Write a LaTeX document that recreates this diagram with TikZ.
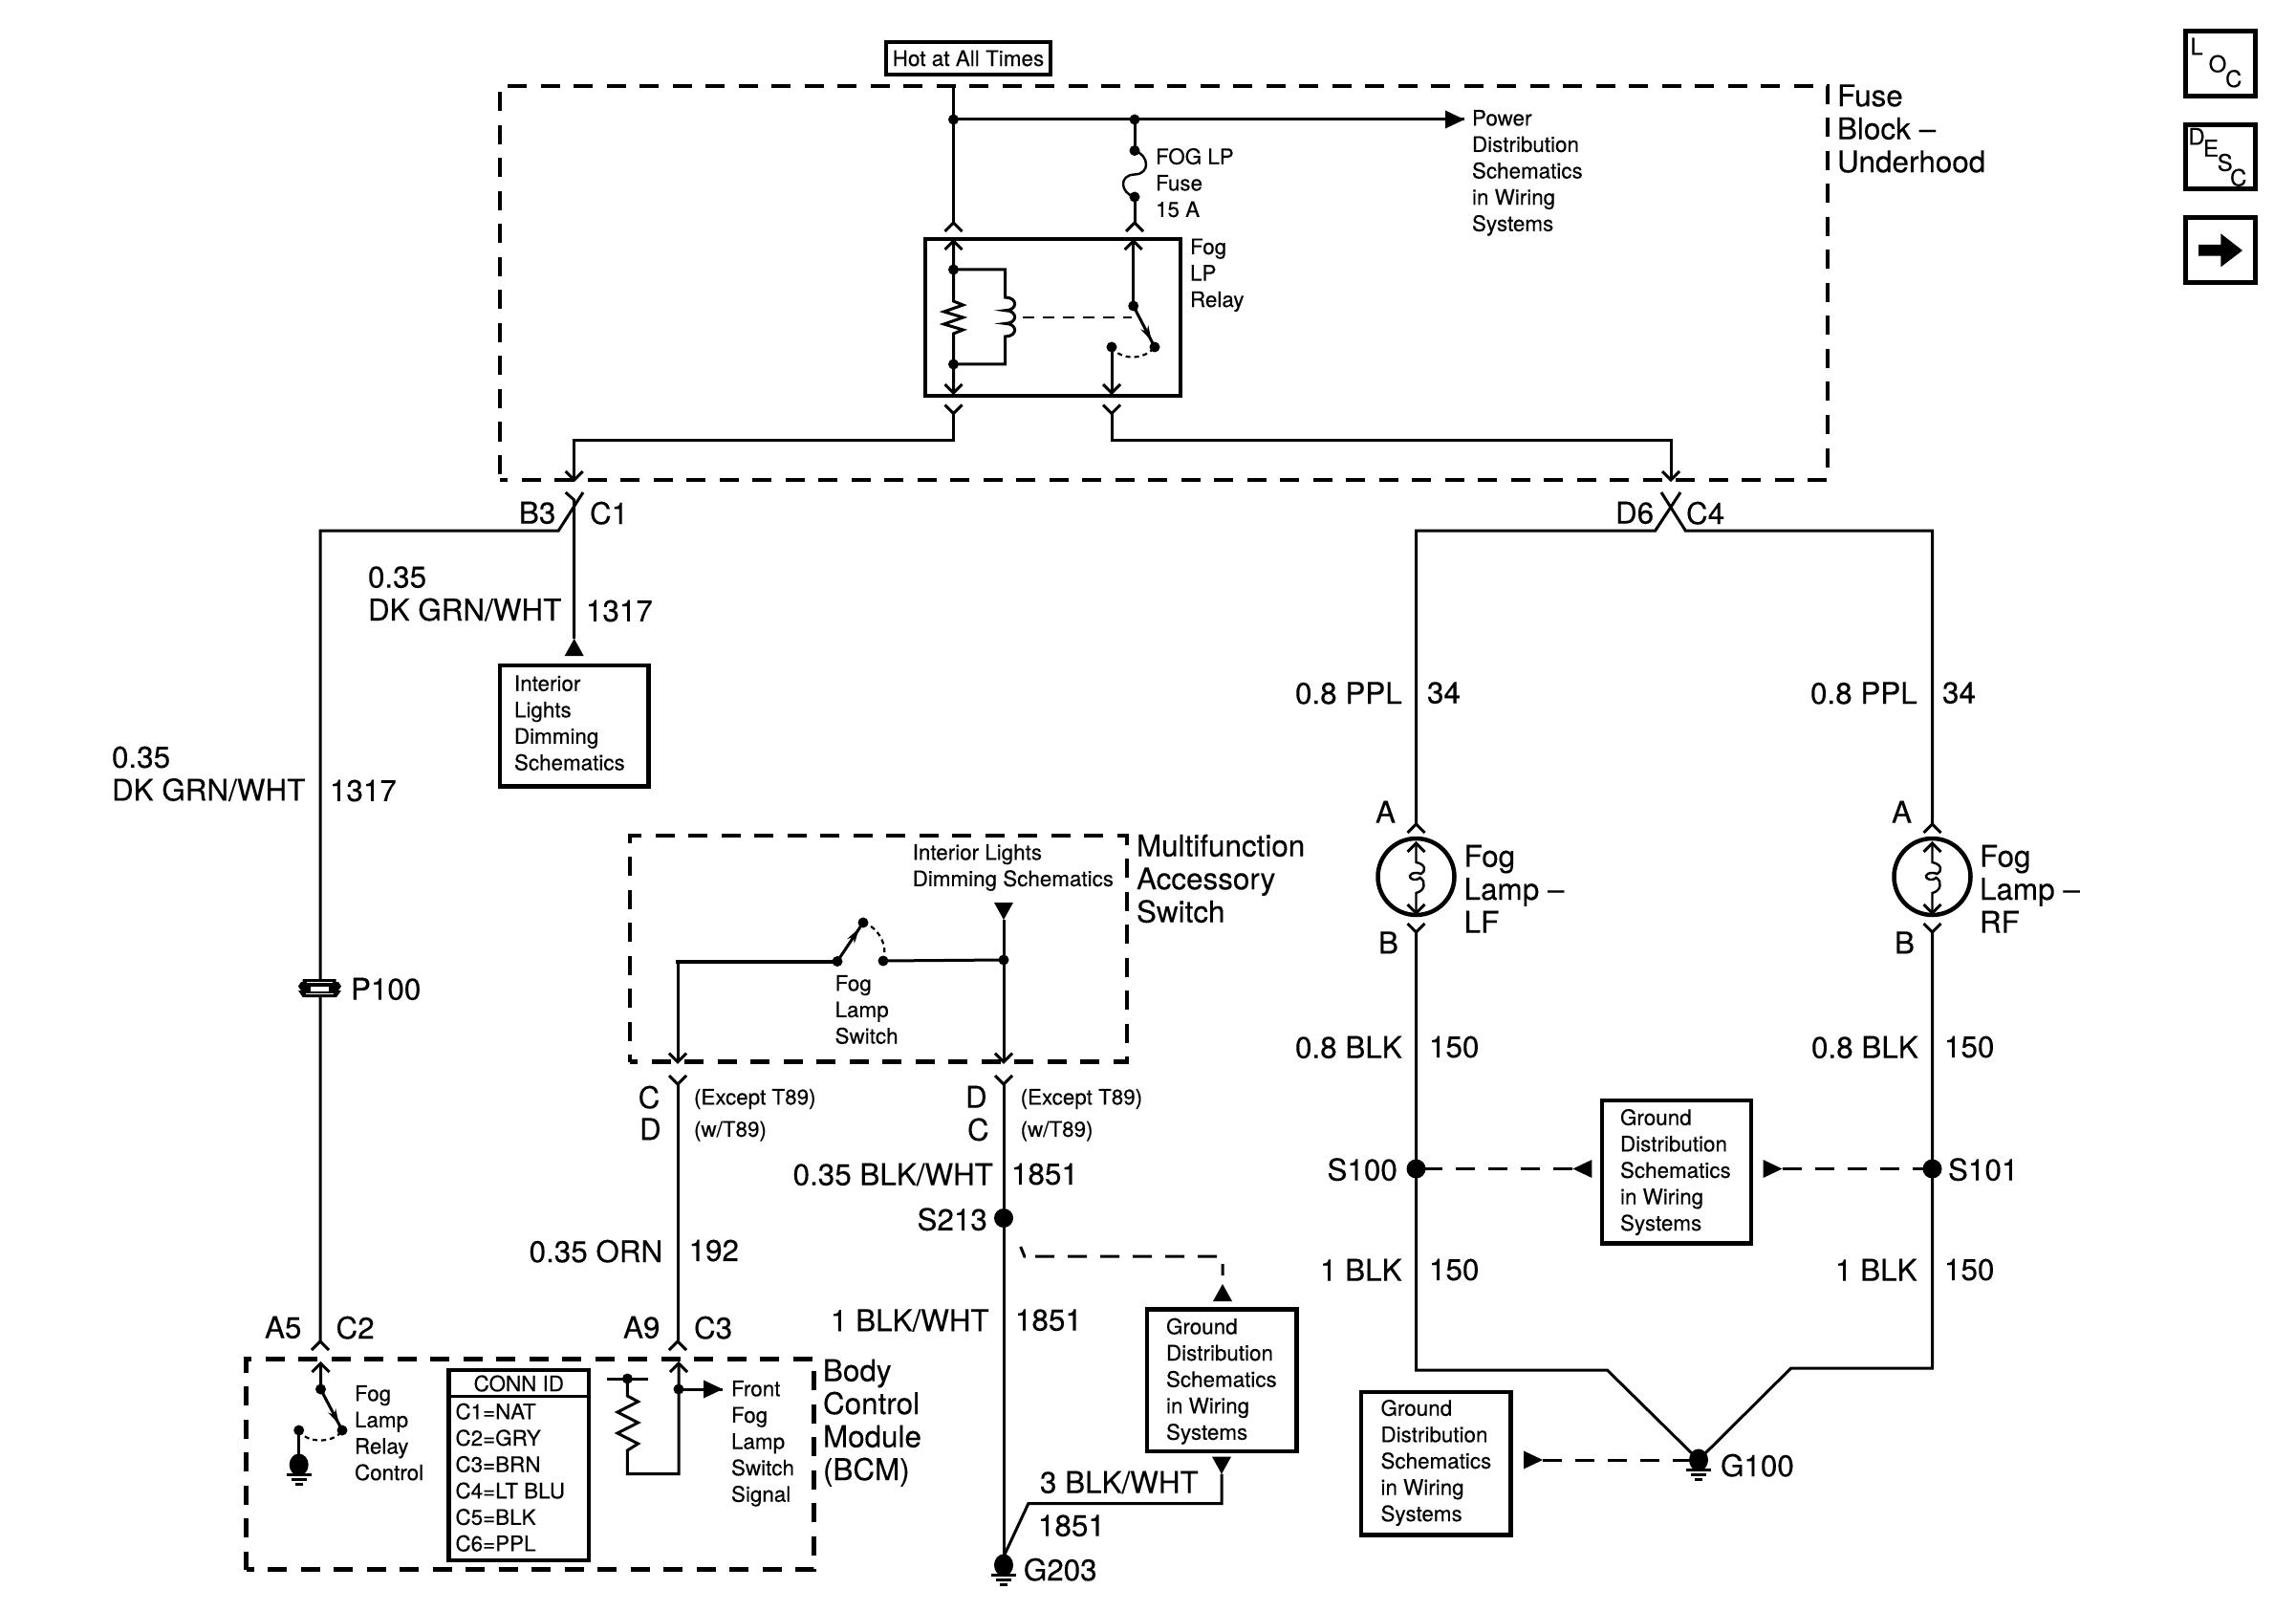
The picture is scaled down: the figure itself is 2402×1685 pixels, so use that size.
\documentclass[tikz,border=0pt]{standalone}
\usepackage{fontspec}
\setmainfont{TeX Gyre Heros}[FakeBold=0.2]
\usetikzlibrary{calc,arrows.meta}
\newcommand\cc[3]{\coordinate (#1) at (#2,#3);}
\newcommand\ST[4]{\node[stxt] (#1) at (#2-1,#3-9) {#4};}
\newcommand\BT[4]{\node[btxt] (#1) at (#2-1,#3-11.3) {#4};}
\newcommand\RC[6]{\node[#2,minimum width={(#5-#3)*1pt},minimum height={(#6-#4)*1pt}] (#1) at ({(#3+#5)/2},{(#4+#6)/2}) {};}
\newcommand\JD[3]{\node[jdot] (#1) at (#2,#3) {};}
\newcommand\BD[3]{\node[bdot] (#1) at (#2,#3) {};}
\tikzset{
 wire/.style={line width=3pt,line join=miter,line cap=butt},
 thick wire/.style={line width=4pt},
 thin wire/.style={line width=2.4pt},
 dwire/.style={line width=3pt,dash pattern=on 20pt off 14pt},
 rdash/.style={line width=2pt,dash pattern=on 12pt off 9pt},
 arcdash/.style={line width=2.2pt,dash pattern=on 5pt off 4pt},
 stxt/.style={anchor=north west,inner sep=0pt,outer sep=0pt,align=left,font=\fontsize{22.4}{27.6}\selectfont},
 btxt/.style={anchor=north west,inner sep=0pt,outer sep=0pt,align=left,font=\fontsize{31.4}{34.5}\selectfont},
 jdot/.style={circle,fill=black,inner sep=0pt,outer sep=0pt,minimum size=11pt},
 bdot/.style={circle,fill=black,inner sep=0pt,outer sep=0pt,minimum size=20pt},
 gbox/.style={draw=black,line width=4.5pt,inner sep=0pt,outer sep=0pt},
 ibox/.style={draw=black,line width=5pt,inner sep=0pt,outer sep=0pt},
 mbox/.style={draw=black,line width=4.5pt,inner sep=0pt,outer sep=0pt,dash pattern=on 20pt off 14.5pt,dash phase=12pt},
 icn/.style={inner sep=0pt,font=\fontsize{24}{24}\selectfont},
 chevu/.pic={\draw[wire] (-9,9)--(0,0)--(9,9);},
 chevd/.pic={\draw[wire] (-9,-9)--(0,0)--(9,-9);},
 triu/.pic={\fill (0,0)--(10,18)--(-10,18)--cycle;},
 trid/.pic={\fill (0,0)--(10,-18)--(-10,-18)--cycle;},
 trir/.pic={\fill (0,0)--(-20,-9.5)--(-20,9.5)--cycle;},
 tril/.pic={\fill (0,0)--(20,-9.5)--(20,9.5)--cycle;},
 gnd/.pic={\fill (0,0) ellipse [x radius=10,y radius=11.5];
   \draw[line width=2.5pt] (-13,10.5)--(13,10.5) (-8,15.5)--(8,15.5) (-4,20.5)--(4,20.5);},
}
\begin{document}
\begin{tikzpicture}[x=1pt,y=-1pt]
\useasboundingbox (0,0) rectangle (2402,1685);
\fill[white] (0,0) rectangle (2402,1685);

% module outlines
\RC{fuseblock}{mbox}{523}{90}{1912}{502}
\RC{mfswitch}{mbox}{659}{874}{1179}{1110.7}
\RC{bcm}{mbox}{257.5}{1421.7}{851.7}{1641.7}

% boxes
\RC{hot}{gbox}{927}{44}{1099}{78}
\node[inner sep=0pt,font=\fontsize{22.5}{25}\selectfont] (hottxt) at (hot.center) {Hot at All Times};
\RC{relay}{gbox}{968}{250}{1235}{414}
\RC{dimbox}{gbox}{523}{696}{678.5}{822.5}
\RC{gndmid}{gbox}{1676}{1151}{1832}{1300.6}
\RC{gndsw}{gbox}{1199.8}{1369.5}{1356.5}{1518}
\RC{gndlow}{gbox}{1424}{1456}{1580.5}{1605.5}
\RC{connid}{gbox}{469.5}{1433}{616}{1632}
\RC{loc}{ibox}{2286.5}{32.5}{2359}{101}
\RC{desc}{ibox}{2286.5}{130.5}{2359}{198}
\RC{arr}{ibox}{2286.5}{228}{2359}{295.5}

% ---- fuse block internals
\cc{hotT}{997.5}{90}
\JD{jh}{997.5}{125}
\JD{jf}{1187}{125}
\cc{pwrT}{1532}{125}
\JD{fa}{1187}{157.5}
\JD{fb}{1187}{206}
\cc{chA}{997.5}{233}
\cc{chB}{1187}{233}
\draw[wire] (hotT)--(chA);
\draw[wire] (jh.center)--(pwrT);
\pic at (pwrT) {trir};
\draw[wire] (jf.center)--(fa.center);
\draw[thin wire] (fa.center) .. controls (1202,162) and (1204,182) .. (1187,182.5)
   .. controls (1170,183) and (1172,202) .. (fb.center);
\draw[wire] (fb.center)--(chB);
\pic at (chA) {chevu};
\pic at (chB) {chevu};
\ST{t1}{1210}{164}{FOG LP\\Fuse\\15 A}
\ST{t2}{1246}{258.6}{Fog\\LP\\Relay}
\ST{t3}{1541}{124}{Power\\Distribution\\Schematics\\in Wiring\\Systems}
\BT{t4}{1923}{99.6}{Fuse\\Block --\\Underhood}

% relay internals
\cc{rA}{997.5}{252}
\cc{rAb}{997.5}{411}
\JD{ra}{997.5}{282}
\JD{rb}{997.5}{381}
\cc{rCa}{1051.5}{282}
\cc{rCb}{1051.5}{381}
\pic at (rA) {chevu};
\pic at (rAb) {chevd};
\draw[wire] (rA)--(997.5,315)--(1007.5,319)--(987.5,326)--(1007.5,332)--(987.5,339)--(1007.5,345)--(997.5,349)--(rAb);
\draw[wire] (ra.center)--(rCa)--(1051.5,311)
  .. controls (1065,311) and (1065,324.7) .. (1051.5,324.7)
  .. controls (1065,324.7) and (1065,338.4) .. (1051.5,338.4)
  .. controls (1065,338.4) and (1065,352) .. (1051.5,352)
  --(rCb)--(rb.center);
\cc{rB}{1185.7}{252}
\JD{rp}{1185.7}{320}
\JD{rq}{1208}{363}
\JD{rr}{1163}{363}
\cc{rRb}{1163}{411}
\pic at (rB) {chevu};
\pic at (rRb) {chevd};
\draw[wire] (rB)--(rp.center);
\draw[wire] (rr.center)--(rRb);
\draw[wire] (rp.center)--(rq.center);
\draw[line width=2pt,-{Stealth[length=16pt,width=9pt]}] (rp.center)--($(rp)!0.85!(rq)$);
\draw[rdash] (1070,332)--(1184,332);
\draw[arcdash] (rr.center) .. controls (1172,377) and (1197,377) .. (rq.center);

% relay outputs
\cc{oA}{997.5}{432.5}
\cc{oB}{1163}{432.5}
\cc{oAc}{997.5}{460}
\cc{oBc}{1163}{460}
\cc{c1T}{600.7}{460}
\cc{c4T}{1748}{460}
\cc{c1A}{600.7}{502}
\cc{c4A}{1748}{502}
\pic at (oA) {chevd};
\pic at (oB) {chevd};
\draw[wire] (oA)--(oAc)--(c1T)--(c1A);
\draw[wire] (oB)--(oBc)--(c4T)--(c4A);
\pic at (c1A) {chevd};
\pic at (c4A) {chevd};

% C1 / B3
\cc{c1x}{600.7}{523}
\cc{b3a}{610}{515}
\cc{b3b}{584.3}{555}
\cc{b3c}{335}{555}
\cc{c1l}{591.7}{515}
\cc{a5tip}{335}{1403}
\cc{c1tri}{600.7}{668}
\draw[wire] (c1l)--(c1x)--(c1tri);
\pic at (c1tri) {triu};
\draw[wire] (b3a)--(b3b)--(b3c)--(a5tip);
\pic at (a5tip) {chevu};
\BT{t5}{544}{536}{B3}
\BT{t6}{618}{536}{C1}
\BT{t7}{386}{603.6}{0.35\\DK GRN/WHT}
\BT{t8}{614}{639}{1317}
\ST{t9}{539}{715.4}{Interior\\Lights\\Dimming\\Schematics}
\BT{t10}{118}{792}{0.35\\DK GRN/WHT}
\BT{t11}{346}{827}{1317}

% P100
\fill (316.7,1024)--(351.7,1024)--(351.7,1027)--(354,1027)--(357,1031.5)--(354,1036)--(357,1036)--(352,1043)--(316.7,1043)--(312,1036)--(315,1036)--(312,1031.5)--(315,1027)--(316.7,1027)--cycle;
\fill[white] (325,1031.5) rectangle (344,1036.5);
\fill[white] (320,1038.5) rectangle (349,1040);
\fill[white] (321,1026.5) rectangle (348,1028);
\BT{t12}{368}{1034}{P100}

% C4 / D6 and lamps
\cc{d6a}{1758}{515}
\cc{d6b}{1731.7}{555}
\cc{llT}{1481.5}{555}
\cc{c4a}{1738}{515}
\cc{c4b}{1763.3}{555}
\cc{rlT}{2021.5}{555}
\cc{llA}{1481.5}{862}
\cc{rlA}{2021.5}{862}
\draw[wire] (d6a)--(d6b)--(llT)--(llA);
\draw[wire] (c4a)--(c4b)--(rlT)--(rlA);
\pic at (llA) {chevu};
\pic at (rlA) {chevu};
\BT{t13}{1691}{536}{D6}
\BT{t14}{1765}{536}{C4}
\BT{t15}{1356}{724.6}{0.8 PPL}
\BT{t16}{1494}{724.6}{34}
\BT{t17}{1895}{724.6}{0.8 PPL}
\BT{t18}{2033}{724.6}{34}
\BT{t19}{1440}{849}{A}
\BT{t20}{1980}{849}{A}
\BT{t21}{1443}{985.7}{B}
\BT{t22}{1983}{985.7}{B}
\BT{t23}{1532.6}{895}{Fog\\Lamp --\\LF}
\BT{t24}{2072}{895}{Fog\\Lamp --\\RF}

\foreach \nm/\xx in {ll/1481.5,rl/2021.5}{
  \node[draw=black,line width=4.5pt,circle,inner sep=0pt,minimum size=80pt] (\nm L) at (\xx,917) {};
  \begin{scope}[shift={(\xx,0)}]
    \draw[thin wire] (0,882)--(0,902) .. controls (11,904) and (10,912) .. (5,914)
       .. controls (-2,911) and (-10,915) .. (-5,919) .. controls (-2,921) and (2,920) .. (4,918)
       .. controls (11,922) and (9,932) .. (0,934)--(0,955);
    \pic at (0,882) {chevu};
    \pic at (0,955) {chevd};
    \pic at (0,975) {chevd};
  \end{scope}
}
\cc{llB}{1481.5}{975}
\cc{rlB}{2021.5}{975}
\BD{s100}{1481.5}{1222.5}
\BD{s101}{2021.5}{1222.5}
\cc{llC}{1481.5}{1433}
\cc{rlC}{2021.5}{1431}
\cc{llD}{1681.4}{1433}
\cc{rlD}{1873.7}{1431}
\cc{g100}{1777}{1527}
\draw[wire] (llB)--(s100.center)--(llC)--(llD)--(g100);
\draw[wire] (rlB)--(s101.center)--(rlC)--(rlD)--(g100);
\pic at (g100) {gnd};
\BT{t25}{1356}{1095}{0.8 BLK}
\BT{t26}{1496}{1095}{150}
\BT{t27}{1896}{1095}{0.8 BLK}
\BT{t28}{2035}{1095}{150}
\BT{t29}{1389.5}{1222.5}{S100}
\BT{t30}{2039}{1222.5}{S101}
\BT{t31}{1382}{1328}{1 BLK}
\BT{t32}{1496}{1328}{150}
\BT{t33}{1921}{1328}{1 BLK}
\BT{t34}{2035}{1328}{150}
\BT{t35}{1801}{1532}{G100}
\ST{t36}{1696}{1169}{Ground\\Distribution\\Schematics\\in Wiring\\Systems}
\ST{t37}{1445.5}{1473}{Ground\\Distribution\\Schematics\\in Wiring\\Systems}
\cc{gmL}{1645.4}{1222.5}
\cc{gmR}{1864.5}{1222.5}
\cc{glR}{1614}{1527}
\draw[dwire] (gmL)--(s100.center);
\pic at (gmL) {tril};
\draw[dwire] (gmR)--(s101.center);
\pic at (gmR) {trir};
\draw[dwire] (glR)--(g100);
\pic at (glR) {trir};

% multifunction switch
\cc{swL}{709}{1005.5}
\cc{swLt}{709}{1110.7}
\JD{swA}{876}{1005.5}
\JD{swB}{903}{965}
\JD{swC}{924}{1005}
\JD{swD}{1050}{1004}
\cc{swTri}{1050}{962}
\cc{swRt}{1050}{1110.7}
\draw[wire] (swLt)--(swL);
\draw[thick wire] (707,1005.5)--(swA.center);
\draw[wire] (swC.center)--(swD.center);
\draw[wire] (swTri)--(swRt);
\draw[wire] (swA.center)--(swB.center);
\draw[line width=2pt,-{Stealth[length=16pt,width=9pt]}] (swA.center)--($(swA)!0.85!(swB)$);
\draw[arcdash] (swB.center) .. controls (915,968) and (930,985) .. (swC.center);
\pic at (swTri) {trid};
\pic at (swLt) {chevd};
\pic at (swRt) {chevd};
\ST{t38}{955.7}{892}{Interior Lights\\Dimming Schematics}
\ST{t39}{874.6}{1029}{Fog\\Lamp\\Switch}
\BT{t40}{1190}{884}{Multifunction\\Accessory\\Switch}

% below switch
\cc{mA}{709}{1134}
\cc{mB}{1050}{1134}
\cc{a9tip}{709}{1403}
\BD{s213}{1050}{1274}
\cc{g203}{1050}{1637}
\draw[wire] (mA)--(a9tip);
\draw[wire] (mB)--(s213.center)--(g203);
\pic at (mA) {chevd};
\pic at (mB) {chevd};
\pic at (a9tip) {chevu};
\pic at (g203) {gnd};
\BT{t41}{668.7}{1147}{C}
\BT{t42}{670}{1180.7}{D}
\BT{t43}{1011}{1147}{D}
\BT{t44}{1013}{1180.7}{C}
\ST{t45}{727}{1148}{(Except T89)}
\ST{t46}{727}{1181.6}{(w/T89)}
\ST{t47}{1068.6}{1148}{(Except T89)}
\ST{t48}{1068.6}{1181.6}{(w/T89)}
\BT{t49}{830.6}{1228}{0.35 BLK/WHT}
\BT{t50}{1059}{1228}{1851}
\BT{t51}{960.5}{1274.6}{S213}
\BT{t52}{554.6}{1308}{0.35 ORN}
\BT{t53}{721.6}{1308}{192}
\BT{t54}{870}{1380.7}{1 BLK/WHT}
\BT{t55}{1063}{1380.7}{1851}
\BT{t56}{278}{1388}{A5}
\BT{t57}{352.5}{1388}{C2}
\BT{t58}{653}{1388}{A9}
\BT{t59}{727}{1388}{C3}
\BT{t60}{1089}{1550}{3 BLK/WHT}
\BT{t61}{1087}{1595.7}{1851}
\BT{t62}{1071.8}{1641}{G203}
\ST{t63}{1221}{1387.7}{Ground\\Distribution\\Schematics\\in Wiring\\Systems}

% G203 / ground distribution links
\cc{da}{1067.7}{1304}
\cc{db}{1071.8}{1314}
\cc{dc}{1279}{1314}
\cc{dd}{1279}{1343}
\draw[dwire,dash pattern=on 12pt off 10pt on 20pt off 14pt on 20pt off 14pt on 20pt off 14pt on 20pt off 14pt on 20pt off 14pt on 20pt off 14pt] (da)--(db)--(dc)--(dd);
\pic at (dd) {triu};
\cc{ea}{1278}{1541.7}
\cc{eb}{1278}{1572.7}
\cc{ec}{1075.8}{1572.7}
\cc{ed}{1050.5}{1627}
\draw[wire] (ea)--(eb)--(ec)--(ed);
\pic at (ea) {trid};

% BCM internals
\cc{bA}{335.5}{1426}
\JD{bP}{335.5}{1453}
\JD{bQ}{358}{1496}
\JD{bR}{312.7}{1496}
\cc{bG}{312.7}{1532}
\draw[wire] (bA)--(bP.center)--(bQ.center);
\draw[line width=2pt,-{Stealth[length=16pt,width=9pt]}] (bP.center)--($(bP)!0.85!(bQ)$);
\draw[wire] (bR.center)--(bG);
\pic at (bA) {chevu};
\pic at (bG) {gnd};
\draw[arcdash] (bR.center) .. controls (320,1510) and (350,1510) .. (bQ.center);
\ST{t64}{372}{1458}{Fog\\Lamp\\Relay\\Control}
\ST{t65}{766}{1453}{Front\\Fog\\Lamp\\Switch\\Signal}
\BT{t66}{862}{1433}{Body\\Control\\Module\\(BCM)}

\cc{tL}{635}{1442}
\cc{tR}{677.7}{1442}
\JD{tM}{656.4}{1442}
\cc{rK}{656.4}{1541.7}
\cc{rM}{710}{1541.7}
\cc{rT}{710}{1426}
\JD{rJ}{710}{1453}
\cc{rS}{756}{1453}
\draw[wire] (tL)--(tR);
\draw[wire] (tM.center)--(656.4,1460)--(667.5,1466)--(646,1477)--(667.5,1488)--(646,1499)--(667.5,1510)--(656.4,1517)--(rK)--(rM)--(rT);
\draw[wire] (rJ.center)--(rS);
\pic at (rT) {chevu};
\pic at (rS) {trir};

% conn id
\cc{ciL}{469}{1460.7}
\cc{ciR}{616.6}{1460.7}
\draw[wire] (ciL)--(ciR);
\node[inner sep=0pt,font=\fontsize{22.4}{27.6}\selectfont] (cih) at (542.8,1447) {CONN ID};
\ST{ci1}{477.5}{1476.7}{C1=NAT\\C2=GRY\\C3=BRN\\C4=LT BLU\\C5=BLK\\C6=PPL}

% icons
\node[icn] (iL) at (2298,48.5) {L};
\node[icn] (iO) at (2320,66.7) {O};
\node[icn] (iC) at (2336.7,82.3) {C};
\node[icn] (iD) at (2298,142.7) {D};
\node[icn] (iE) at (2313,155) {E};
\node[icn] (iS) at (2327.7,170) {S};
\node[icn] (iC2) at (2341.7,185.7) {C};
\fill (2300,256)--(2323.3,256)--(2323.3,244.3)--(2346,262)--(2323.3,279.3)--(2323.3,267.7)--(2300,267.7)--cycle;
\end{tikzpicture}
\end{document}
